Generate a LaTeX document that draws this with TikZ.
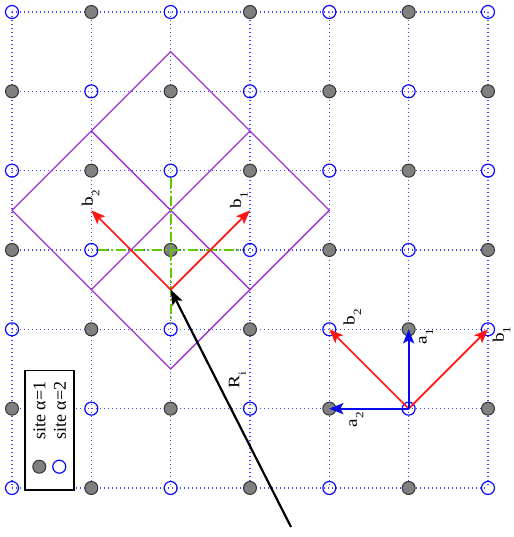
\documentclass[tikz,border=0pt]{standalone}
\usepackage{fontspec}
\setmainfont{Liberation Serif}
\usepackage{xcolor}
\usepackage{tikz}
\usetikzlibrary{arrows.meta, positioning}

\definecolor{gridblue}{RGB}{70,70,255}
\definecolor{siteblue}{RGB}{10,10,255}
\definecolor{cellpurple}{RGB}{160,50,210}
\definecolor{crossgreen}{RGB}{100,200,0}
\definecolor{vecred}{RGB}{255,20,20}
\definecolor{vecblue}{RGB}{10,10,240}

\newcommand{\vlab}[2]{#1\raisebox{-6.5pt}{\fontsize{11}{11}\selectfont #2}}

\tikzset{
    siteA/.style={circle, draw=black!80, fill=black!50, line width=1pt, minimum size=13pt, inner sep=0pt},
    siteB/.style={circle, draw=siteblue, line width=1.2pt, minimum size=13pt, inner sep=0pt},
    gridline/.style={gridblue, line width=1.2pt, dash pattern=on 1.2pt off 2.8pt},
    cell/.style={cellpurple, line width=1.3pt},
    cross/.style={crossgreen, line width=2.2pt, dash pattern=on 10pt off 3pt on 2pt off 3pt},
    bvec/.style={vecred, line width=1.7pt, -{Stealth[length=14pt, width=11pt, inset=3pt]}},
    avec/.style={vecblue, line width=2.2pt, -{Stealth[length=14pt, width=11pt, inset=3pt]}},
    lab/.style={rotate=90, xscale=1.2, inner sep=0pt, font=\fontsize{16}{19}\selectfont},
    legtext/.style={rotate=90, anchor=west, inner sep=0pt, font=\fontsize{18}{21}\selectfont},
}

\begin{document}
\begin{tikzpicture}[x=79.33pt, y=-79.33pt]
    \useasboundingbox (-0.1513,-0.1513) rectangle (6.3154,6.618);
    % 1. Lattice grid
    \foreach \k in {0,...,6} {
        \draw[gridline] (0,\k) -- (6,\k);
        \draw[gridline] (\k,0) -- (\k,6);
    }
    
    % 2. Lattice sites
    \foreach \i in {0,...,6} {
        \foreach \j in {0,...,6} {
            \pgfmathtruncatemacro\odd{mod(\i+\j,2)}
            \ifnum\odd=1
                \node[siteA] (s\i\j) at (\i,\j) {};
            \else
                \node[siteB] (s\i\j) at (\i,\j) {};
            \fi
        }
    }
    
    % 3. Legend
    \node[draw, fill=white, line width=1.2pt, minimum width=49pt, minimum height=119.5pt, inner sep=0pt] (legend) at (0.473,5.272) {};
    \node[siteA] (legdotA) at (0.344,5.732) {};
    \node[siteB] (legdotB) at (0.596,5.732) {};
    \node[legtext] (legA) at (0.347,5.395) {site α=1};
    \node[legtext] (legB) at (0.605,5.395) {site α=2};
    
    % 4. Cells
    \coordinate (top) at (2,0.5);
    \coordinate (left) at (0,2.5);
    \coordinate (bot) at (2,4.5);
    \coordinate (right) at (4,2.5);
    \coordinate (tl) at (1,1.5);
    \coordinate (tr) at (3,1.5);
    \coordinate (bl) at (1,3.5);
    \coordinate (br) at (3,3.5);
    \draw[cell] (top) -- (left) -- (bot) -- (right) -- cycle;
    \draw[cell] (tl) -- (br);
    \draw[cell] (tr) -- (bl);
    \draw[cross] (s13) -- (s33);
    \draw[cross] (s22) -- (s24);
    
    % 5. Reciprocal vectors on the cell
    \coordinate (orig) at (2,3.5);
    \coordinate (tipB2) at (1,2.5);
    \coordinate (tipB1) at (3,2.5);
    \draw[bvec] (orig) -- (tipB2);
    \draw[bvec] (orig) -- (tipB1);
    \node[lab] (lb2) at (0.99,2.345) {\vlab{b}{2}};
    \node[lab] (lb1) at (2.86,2.37) {\vlab{b}{1}};
    
    % 6. Position vector
    \coordinate (tail) at (3.517,6.492);
    \draw[line width=2.2pt, -{Stealth[length=15pt, width=11pt, inset=3pt]}] (tail) -- (orig);
    \node[lab] (lR) at (2.84,4.64) {\vlab{R}{i}};
    
    % 7. Primitive and reciprocal vectors
    \draw[bvec] (s55.center) -- (s44.center);
    \draw[bvec] (s55.center) -- (s64.center);
    \draw[avec] (s55.center) -- (s54.center);
    \draw[avec] (s55.center) -- (s45.center);
    \node[lab] (rb2) at (4.29,3.845) {\vlab{b}{2}};
    \node[lab] (rb1) at (6.17,4.07) {\vlab{b}{1}};
    \node[lab] (ra1) at (5.22,4.09) {\vlab{a}{1}};
    \node[lab] (ra2) at (4.34,5.14) {\vlab{a}{2}};
\end{tikzpicture}
\end{document}
